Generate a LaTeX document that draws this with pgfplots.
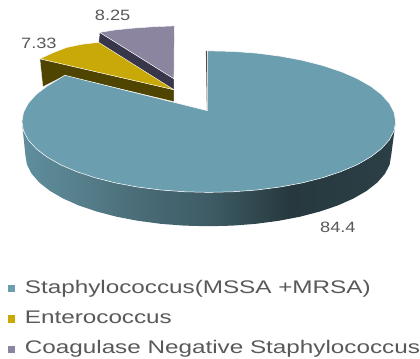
\documentclass[border=0pt]{standalone}
\usepackage{fontspec}
\setmainfont{Liberation Sans}
\usepackage{pgfplots}
\pgfplotsset{compat=1.18}
\definecolor{teal}{HTML}{6B9EAE}
\definecolor{gold}{HTML}{C9A907}
\definecolor{mauve}{HTML}{8B85A0}
\definecolor{goldwall}{HTML}{4F4500}
\definecolor{mauvewall}{HTML}{38364A}
\definecolor{inklabel}{HTML}{595959}
\pgfdeclarehorizontalshading{rimshade}{100bp}{
  color(0bp)=(teal!90!black);
  color(25bp)=(teal!90!black);
  color(33bp)=(teal!80!black);
  color(41bp)=(teal!68!black);
  color(50bp)=(teal!58!black);
  color(60.7bp)=(teal!36!black);
  color(75bp)=(teal!40!black);
  color(100bp)=(teal!40!black)}
\newcommand{\wlab}[1]{\scalebox{1.22}[1]{\fontsize{15}{18}\selectfont\color{inklabel}#1}}
\newcommand{\lgd}[1]{\scalebox{1.33}[1]{\fontsize{18.3}{20}\selectfont\color{inklabel}#1}}
\begin{document}
\begin{tikzpicture}
\begin{axis}[
  at={(0,0)}, anchor=south west,
  width=420pt, height=360pt, scale only axis,
  xmin=0, xmax=420, ymin=0, ymax=360, y dir=reverse,
  hide axis,
  legend image code/.code={\path[#1,draw=none] (0pt,-3.7pt) rectangle (7.5pt,3.7pt);},
  legend style={
    at={(axis cs:8,281)}, anchor=north west, draw=none, fill=none,
    inner sep=0pt, outer sep=0pt,
    row sep=13.5pt, column sep=9.5pt,
    nodes={inner sep=0pt,text height=13pt,text depth=4pt},
  },
  legend cell align=left,
]
% page background
\addplot[fill=white,draw=none,forget plot] coordinates {(0,0)(420,0)(420,360)(0,360)} --cycle;

% outer wall of the large slice
\addplot[shading=rimshade,draw=none,forget plot] coordinates {
  (397,122)(395.4,131.3)(390.6,140.4)(382.7,149.2)(371.9,157.5)(358.3,165.3)(342.1,172.2)(323.7,178.3)
  (303.3,183.5)(281.3,187.6)(258,190.6)(234,192.4)(209.5,193)(185,192.4)(161,190.6)(137.7,187.6)
  (115.8,183.5)(95.3,178.3)(76.9,172.2)(60.7,165.3)(47.1,157.5)(36.3,149.2)(28.4,140.4)(23.6,131.3)(22,122)
  (25.5,156)(27.1,165.3)(31.8,174.4)(39.5,183.2)(50.1,191.5)(63.4,199.2)(79.2,206.2)(97.3,212.3)
  (117.2,217.5)(138.8,221.6)(161.5,224.6)(185.1,226.4)(209,227)(232.9,226.4)(256.5,224.6)(279.2,221.6)
  (300.8,217.5)(320.7,212.3)(338.8,206.2)(354.6,199.2)(367.9,191.5)(378.5,183.2)(386.2,174.4)(390.9,165.3)(392.5,156)
} --cycle;

% inner walls of the two small slices
\addplot[fill=mauvewall,draw=white,line width=0.3pt,forget plot] coordinates {(100,32.5)(174.5,79)(174.5,91)(99,43)} --cycle;
\addplot[fill=goldwall,draw=white,line width=0.3pt,forget plot] coordinates {(40,59)(174.5,90)(174.5,102)(65,76)(43,87)} --cycle;

% sliver of the cut face beside the apex
\addplot[fill=black!70,draw=none,forget plot] coordinates {(206.6,51)(207.8,51)(209,111)(207.6,111)} --cycle;

% top faces: 84.4, 7.33, 8.25
\addplot[fill=teal,draw=white,line width=0.5pt] coordinates {
  (208,111)(208,51)(234,51.6)(258,53.4)(281.3,56.4)(303.3,60.5)(323.7,65.7)(342.1,71.8)(358.3,78.8)
  (371.9,86.5)(382.7,94.8)(390.6,103.6)(395.4,112.7)(397,122)(395.4,131.3)(390.6,140.4)(382.7,149.2)
  (371.9,157.5)(358.3,165.3)(342.1,172.2)(323.7,178.3)(303.3,183.5)(281.3,187.6)(258,190.6)(234,192.4)
  (209.5,193)(185,192.4)(161,190.6)(137.7,187.6)(115.8,183.5)(95.3,178.3)(76.9,172.2)(60.7,165.3)
  (47.1,157.5)(36.3,149.2)(28.4,140.4)(23.6,131.3)(22,122)(23.6,112.7)(28.4,103.6)(36.3,94.8)(47.1,86.5)(55.9,81.2)(65,75.5)
} --cycle;
\addlegendentry{\lgd{Staphylococcus(MSSA +MRSA)}}
\addplot[fill=gold,draw=white,line width=0.4pt] coordinates {(174.5,90)(40,59)(53,53)(66.7,47.7)(82,44.5)(99,42.5)} --cycle;
\addlegendentry{\lgd{Enterococcus}}
\addplot[fill=mauve,draw=white,line width=0.4pt] coordinates {(174.5,79)(100,32.5)(116,30)(133,28.3)(154,26.8)(175,26)} --cycle;
\addlegendentry{\lgd{Coagulase Negative Staphylococcus}}

% slice values
\node at (axis cs:113,15) {\wlab{8.25}};
\node at (axis cs:39,43) {\wlab{7.33}};
\node at (axis cs:339,228.5) {\wlab{84.4}};
\end{axis}
\end{tikzpicture}
\end{document}
